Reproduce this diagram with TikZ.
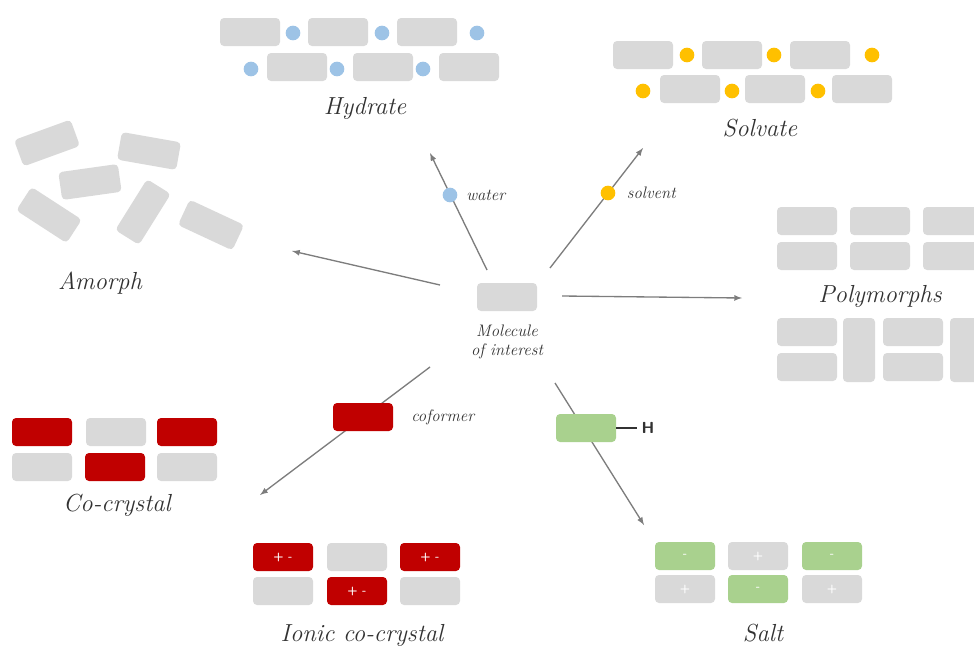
\documentclass[tikz,border=0pt]{standalone}
\usepackage{tikz}
\usetikzlibrary{arrows,positioning}
\definecolor{brick-gray}{RGB}{217,217,217}
\definecolor{brick-red}{RGB}{192,0,0}
\definecolor{brick-green}{RGB}{169,209,142}
\definecolor{dot-blue}{RGB}{157,195,230}
\definecolor{dot-yellow}{RGB}{255,192,0}
\definecolor{label-gray}{RGB}{50,50,50}
\definecolor{line-gray}{RGB}{125,125,125}
\tikzstyle{brick}=[rounded corners=3pt, minimum width=45pt, minimum height=21pt, inner sep=0pt, fill=brick-gray]
\tikzstyle{redbrick}=[brick, fill=brick-red]
\tikzstyle{greenbrick}=[brick, fill=brick-green]
\tikzstyle{tallbrick}=[brick, minimum width=24pt, minimum height=48pt]
\tikzstyle{waterdot}=[circle, fill=dot-blue, minimum size=11pt, inner sep=0pt]
\tikzstyle{solvdot}=[circle, fill=dot-yellow, minimum size=11pt, inner sep=0pt]
\tikzstyle{biglabel}=[text=label-gray, font=\fontsize{18.5}{22}\selectfont\itshape]
\tikzstyle{smalllabel}=[text=label-gray, font=\fontsize{12.5}{14.5}\selectfont\itshape, align=center]
\tikzstyle{charge}=[text=white, font=\sffamily\bfseries\fontsize{9}{10}\selectfont]
\tikzstyle{route}=[draw=line-gray, line width=1pt, -latex]

\begin{document}
\begin{tikzpicture}[x=0.75pt, y=-0.75pt]
	\useasboundingbox (0,0) rectangle (974,650);
	% arrow ends
	\coordinate (hyd-s) at (487,270);
	\coordinate (hyd-e) at (430,153);
	\coordinate (sol-s) at (550,268);
	\coordinate (sol-e) at (643,148);
	\coordinate (amo-s) at (440,285);
	\coordinate (amo-e) at (292,251);
	\coordinate (pol-s) at (562,296);
	\coordinate (pol-e) at (742,298);
	\coordinate (coc-s) at (430,367);
	\coordinate (coc-e) at (260,495);
	\coordinate (sal-s) at (555,383);
	\coordinate (sal-e) at (644,525);
	\draw[route] (hyd-s) -- (hyd-e);
	\draw[route] (sol-s) -- (sol-e);
	\draw[route] (amo-s) -- (amo-e);
	\draw[route] (pol-s) -- (pol-e);
	\draw[route] (coc-s) -- (coc-e);
	\draw[route] (sal-s) -- (sal-e);
	% molecule of interest
	\node[brick] (mol) at (507,297) {};
	\node[smalllabel] (mol-label) at (507,342) {Molecule\\of interest};
	% hydrate
	\foreach \x/\d in {250/293, 338/382, 427/477}{
		\node[brick] (hyd-a\x) at (\x,32) {};
		\node[waterdot] (hyd-da\x) at (\d,33) {};
	}
	\foreach \x/\d in {297/251, 383/337, 469/423}{
		\node[brick] (hyd-b\x) at (\x,67) {};
		\node[waterdot] (hyd-db\x) at (\d,69) {};
	}
	\node[biglabel] (hyd-label) at (365,108) {Hydrate};
	\node[waterdot] (water) at (450,195) {};
	\node[smalllabel, right=3pt of water] (water-label) {water};
	% solvate
	\foreach \x/\d in {643/687, 732/774, 820/872}{
		\node[brick] (sol-a\x) at (\x,55) {};
		\node[solvdot] (sol-da\x) at (\d,55) {};
	}
	\foreach \x/\d in {690/643, 775/732, 862/818}{
		\node[brick] (sol-b\x) at (\x,89) {};
		\node[solvdot] (sol-db\x) at (\d,91) {};
	}
	\node[biglabel] (sol-label) at (760,128) {Solvate};
	\node[solvdot] (solvent) at (608,193) {};
	\node[smalllabel, right=5pt of solvent] (solvent-label) {solvent};
	% amorph
	\node[brick, rotate=20] (amo-1) at (47,143) {};
	\node[brick, rotate=-10] (amo-2) at (149,151) {};
	\node[brick, rotate=8] (amo-3) at (90,182) {};
	\node[brick, rotate=-33] (amo-4) at (49,215) {};
	\node[brick, rotate=58] (amo-5) at (143,212) {};
	\node[brick, rotate=-25] (amo-6) at (211,225) {};
	\node[biglabel] (amo-label) at (100,283) {Amorph};
	% polymorphs
	\foreach \x in {807,880,953}{
		\node[brick] (pol-a\x) at (\x,221) {};
		\node[brick] (pol-b\x) at (\x,256) {};
	}
	\node[biglabel] (pol-label) at (880,296) {Polymorphs};
	\node[brick] (pol-c1) at (807,332) {};
	\node[brick] (pol-c2) at (807,367) {};
	\node[tallbrick] (pol-c3) at (859,350) {};
	\node[brick] (pol-c4) at (913,332) {};
	\node[brick] (pol-c5) at (913,367) {};
	\node[tallbrick] (pol-c6) at (966,350) {};
	% co-crystal
	\node[redbrick] (coformer) at (363,417) {};
	\node[smalllabel, right=10pt of coformer] (coformer-label) {coformer};
	\node[redbrick] (coc-a1) at (42,432) {};
	\node[brick] (coc-a2) at (116,432) {};
	\node[redbrick] (coc-a3) at (187,432) {};
	\node[brick] (coc-b1) at (42,467) {};
	\node[redbrick] (coc-b2) at (115,467) {};
	\node[brick] (coc-b3) at (187,467) {};
	\node[biglabel] (coc-label) at (117,505) {Co-crystal};
	% ionic co-crystal
	\node[redbrick, charge] (ion-a1) at (283,557) {+ -};
	\node[brick] (ion-a2) at (357,557) {};
	\node[redbrick, charge] (ion-a3) at (430,557) {+ -};
	\node[brick] (ion-b1) at (283,591) {};
	\node[redbrick, charge] (ion-b2) at (357,591) {+ -};
	\node[brick] (ion-b3) at (430,591) {};
	\node[biglabel] (ion-label) at (362,635) {Ionic co-crystal};
	% salt
	\node[greenbrick] (acid) at (586,428) {};
	\node[text=label-gray, font=\sffamily\bfseries\fontsize{12}{14}\selectfont] (hydrogen) at (648,428) {H};
	\draw[label-gray, line width=1.2pt] (acid.east) -- (hydrogen.west);
	\node[greenbrick, charge] (sal-a1) at (685,556) {-};
	\node[brick, charge] (sal-a2) at (758,556) {+};
	\node[greenbrick, charge] (sal-a3) at (832,556) {-};
	\node[brick, charge] (sal-b1) at (685,589) {+};
	\node[greenbrick, charge] (sal-b2) at (758,589) {-};
	\node[brick, charge] (sal-b3) at (832,589) {+};
	\node[biglabel] (sal-label) at (763,633) {Salt};
\end{tikzpicture}
\end{document}
